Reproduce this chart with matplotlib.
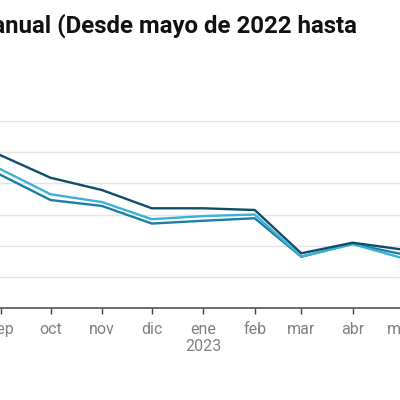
import datetime as dt

import matplotlib
matplotlib.use("Agg")
import matplotlib.pyplot as plt


months = [dt.date(2022, m, 1) for m in range(5, 13)] + [dt.date(2023, m, 1) for m in range(1, 6)]

# interannual inflation (%); may-aug 2022 fall outside the crop
serie_oscura = [9.6, 11.1, 11.6, 11.3, 9.8, 8.36, 7.57, 6.40, 6.40, 6.29, 3.51, 4.19, 3.75]
serie_clara = [8.7, 10.2, 10.8, 10.5, 8.9, 7.3, 6.8, 5.7, 5.9, 6.0, 3.3, 4.1, 3.2]
serie_media = [8.4, 9.9, 10.4, 10.1, 8.54, 6.93, 6.55, 5.42, 5.60, 5.76, 3.29, 4.11, 3.45]

tick_dates = months
tick_labels = ["may", "jun", "jul", "ago", "sep", "oct", "nov", "dic",
               "ene\n2023", "feb", "mar", "abr", "may"]
y_ticks = [0, 2, 4, 6, 8, 10, 12]

title = "Inflación interanual (Desde mayo de 2022 hasta"

colors = {
    "oscura": "#0f4c69",
    "media": "#1c7ea3",
    "clara": "#3cb0d8",
}

plt.rcParams["font.family"] = ["Roboto", "DejaVu Sans"]

W = 400.0
fig = plt.figure(figsize=(4, 4), dpi=100)

# the reference is a crop: the plot area runs past the left edge of the picture
x_left = -203.5
x_right = 402.5
px_per_unit = 15.58
y_axis = 308.0
y_max = 12.5
ax = fig.add_axes([
    x_left / W,
    (W - y_axis) / W,
    (x_right - x_left) / W,
    y_max * px_per_unit / W,
])

ax.plot(months, serie_media, color=colors["media"], linewidth=1.7, zorder=3)
ax.plot(months, serie_clara, color=colors["clara"], linewidth=1.7, zorder=4)
ax.plot(months, serie_oscura, color=colors["oscura"], linewidth=1.7, zorder=5)

ax.set_xlim(months[0], months[-1])
ax.set_ylim(0, y_max)
ax.set_yticks(y_ticks)
ax.grid(True, axis="y", color="#e4e4e4", linewidth=1.0, zorder=0)
ax.tick_params(axis="y", length=0, labelleft=False)

ax.set_xticks(tick_dates)
ax.set_xticklabels(tick_labels, color="#808080", fontsize=11.5, linespacing=1.15)
ax.tick_params(axis="x", length=4, width=1.0, color="#444444", pad=6)

for side in ("top", "left", "right"):
    ax.spines[side].set_visible(False)
ax.spines["bottom"].set_color("#444444")
ax.spines["bottom"].set_linewidth(1.1)

fig.text(357 / W, 1 - 33 / W, title, ha="right", va="baseline",
         fontsize=17.3, fontweight="bold", color="#111111")

fig.savefig("out.png", dpi=100)
